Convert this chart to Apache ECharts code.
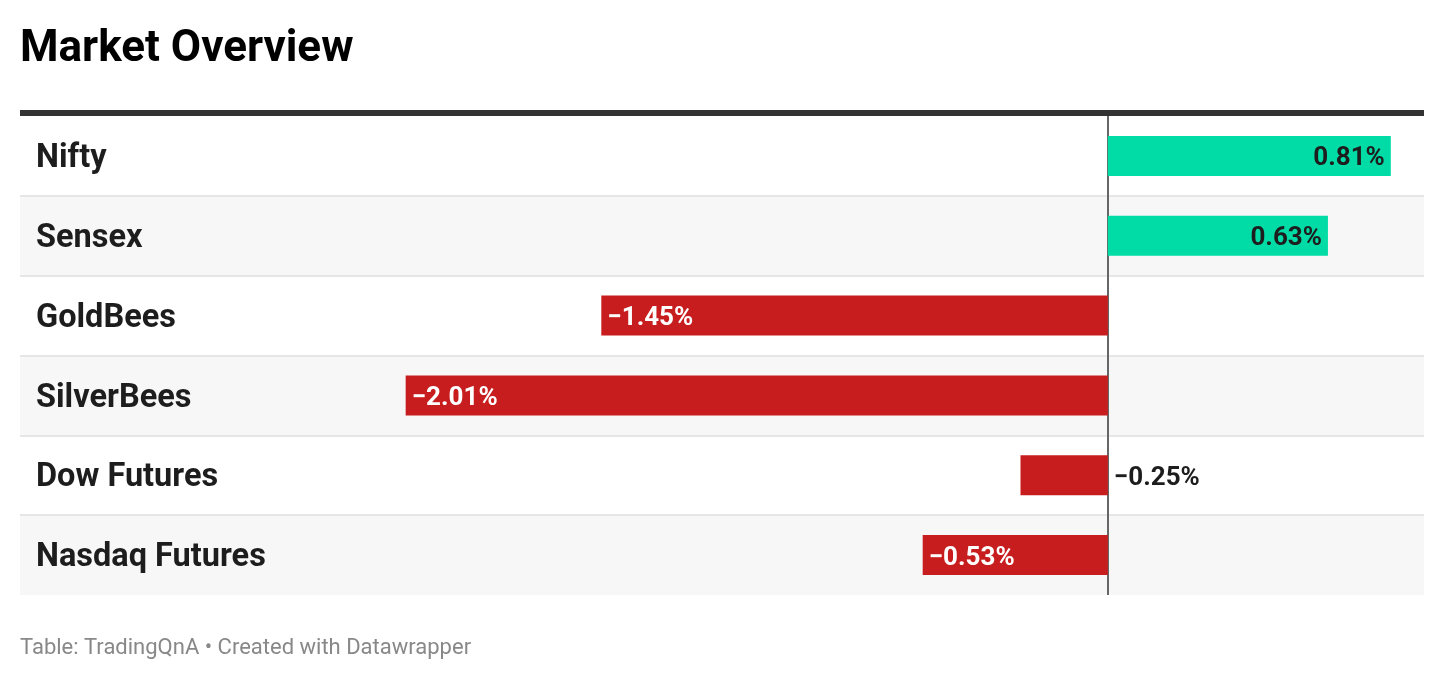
<!DOCTYPE html>
<html>
<head>
<meta charset="utf-8">
<script src="https://cdn.jsdelivr.net/npm/echarts@6/dist/echarts.min.js"></script>
<style>
html,body{margin:0;padding:0;background:#fff;}
#chart{width:1444px;height:680px;}
</style>
</head>
<body>
<div id="chart"></div>
<script>
var categories = ['Nifty', 'Sensex', 'GoldBees', 'SilverBees', 'Dow Futures', 'Nasdaq Futures'];
var changes = [0.81, 0.63, -1.45, -2.01, -0.25, -0.53];
var titleText = 'Market Overview';
var footerText = 'Table: TradingQnA \u2022 Created with Datawrapper';

var GREEN = '#01dca6';
var RED = '#c81d1e';
var DARK = '#1d1d1d';

function fmt(v) {
  return (v < 0 ? '\u2212' : '') + Math.abs(v).toFixed(2) + '%';
}

var barData = changes.map(function (v) {
  var small = Math.abs(v) < 0.3;
  var label;
  if (v >= 0) {
    label = { position: small ? 'right' : 'insideRight', color: DARK, distance: 6 };
  } else {
    label = small ? { position: 'right', color: DARK, distance: 6 } : { position: 'insideLeft', color: '#ffffff', distance: 6 };
  }
  return { value: v, itemStyle: { color: v >= 0 ? GREEN : RED }, label: label };
});

var chart = echarts.init(document.getElementById('chart'));
chart.setOption({
  animation: false,
  backgroundColor: '#ffffff',
  textStyle: { fontFamily: 'Roboto' },
  title: [
    { text: titleText, left: 15, top: 23, padding: 5, textStyle: { fontFamily: 'Roboto', fontSize: 44, fontWeight: 'bold', color: '#000000' } },
    { text: footerText, left: 15, top: 632, padding: 5, textStyle: { fontFamily: 'Roboto', fontSize: 22, fontWeight: 'normal', color: '#888888' } }
  ],
  graphic: [
    { type: 'rect', left: 20, top: 110, shape: { width: 1404, height: 6 }, style: { fill: '#333333' }, z: 100 }
  ],
  grid: { left: 20, right: 20, top: 116, height: 479, containLabel: false },
  xAxis: {
    type: 'value',
    min: -3.114,
    max: 0.905,
    show: false
  },
  yAxis: {
    type: 'category',
    data: categories,
    inverse: true,
    axisLine: { show: false },
    axisTick: { show: false },
    axisLabel: {
      inside: true,
      margin: 16,
      formatter: function (v) { return '{n|' + v + '}'; },
      rich: {
        n: { fontFamily: 'Roboto', fontSize: 32.5, fontWeight: 'bold', color: DARK, padding: [6, 0, 0, 0] }
      }
    },
    splitLine: { show: true, showMinLine: false, showMaxLine: false, lineStyle: { color: '#e6e6e6', width: 2 } },
    splitArea: { show: true, areaStyle: { color: ['#ffffff', '#f7f7f7'] } }
  },
  series: [{
    type: 'bar',
    data: barData,
    barWidth: 40,
    z: 5,
    label: {
      show: true,
      fontFamily: 'Roboto',
      fontSize: 26,
      fontWeight: 'bold',
      offset: [0, 3],
      formatter: function (p) { return fmt(p.value); }
    },
    markLine: {
      silent: true,
      symbol: 'none',
      label: { show: false },
      lineStyle: { color: '#666666', width: 2, type: 'solid' },
      data: [{ xAxis: 0 }]
    }
  }]
});
</script>
</body>
</html>
